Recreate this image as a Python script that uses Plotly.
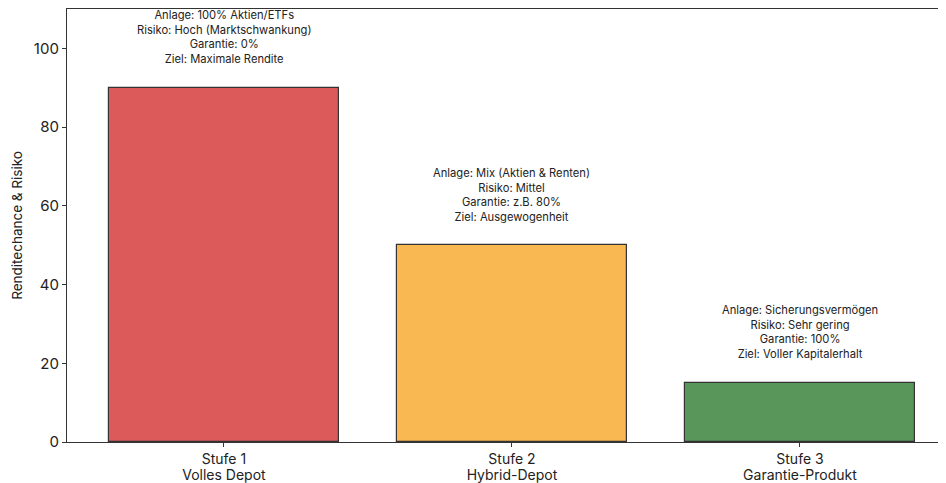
import plotly.graph_objects as go

stages = ["Stufe 1", "Stufe 2", "Stufe 3"]
products = ["Volles Depot", "Hybrid-Depot", "Garantie-Produkt"]
values = [90, 50, 15]
colors = ["#dc5b5a", "#f9b851", "#58965a"]
labels = [
    "Anlage: 100% Aktien/ETFs<br>Risiko: Hoch (Marktschwankung)<br>Garantie: 0%<br>Ziel: Maximale Rendite",
    "Anlage: Mix (Aktien & Renten)<br>Risiko: Mittel<br>Garantie: z.B. 80%<br>Ziel: Ausgewogenheit",
    "Anlage: Sicherungsvermögen<br>Risiko: Sehr gering<br>Garantie: 100%<br>Ziel: Voller Kapitalerhalt",
]
y_ticks = [0, 20, 40, 60, 80, 100]

font = "Inter, Lato, Open Sans, sans-serif"
xs = list(range(len(stages)))
xrange = [-0.545, 2.507]

fig = go.Figure()
fig.add_trace(go.Bar(
    x=xs, y=values, width=0.8,
    marker=dict(color=colors, line=dict(color="#333333", width=1.2)),
    showlegend=False,
))
# helper trace so the second (label-only) x axis is drawn
fig.add_trace(go.Scatter(x=xs, y=[None] * len(xs), xaxis="x2", yaxis="y",
                         showlegend=False, hoverinfo="skip"))

for x, v, t in zip(xs, values, labels):
    fig.add_annotation(x=x, y=v + 5, text=t, showarrow=False, yanchor="bottom",
                       xanchor="center", align="center",
                       font=dict(family=font, size=11.2, color="#222222"))

# page body has an 8px margin; figure sized to fill the visible window
fig.update_layout(
    width=938, height=475,
    margin=dict(l=59, r=0, t=1, b=41),
    paper_bgcolor="white", plot_bgcolor="white",
    font=dict(family=font, color="#222222"),
    bargap=0,
    xaxis2=dict(
        overlaying="x", anchor="y", side="bottom", range=xrange,
        tickvals=xs, ticktext=products, automargin=False,
        showline=False, showgrid=False, zeroline=False,
        ticks="outside", ticklen=4, tickcolor="rgba(0,0,0,0)",
        ticklabelstandoff=16, tickfont=dict(size=14, family=font),
    ),
)
fig.update_layout(xaxis=dict(
    range=xrange, tickvals=xs, ticktext=stages, automargin=False,
    showline=True, linecolor="#333333", linewidth=1.2, mirror=True,
    ticks="outside", ticklen=4, tickcolor="#333333",
    showgrid=False, zeroline=False, tickfont=dict(size=14, family=font),
))
fig.update_yaxes(
    range=[0, 110], tickvals=y_ticks, automargin=False,
    showline=True, linecolor="#333333", linewidth=1.2,
    ticks="outside", ticklen=4, tickcolor="#333333",
    showgrid=False, zeroline=False, tickfont=dict(size=15, family=font),
    title=dict(text="Renditechance & Risiko", font=dict(size=13.5, family=font), standoff=8),
)

fig.write_html("out.html")
